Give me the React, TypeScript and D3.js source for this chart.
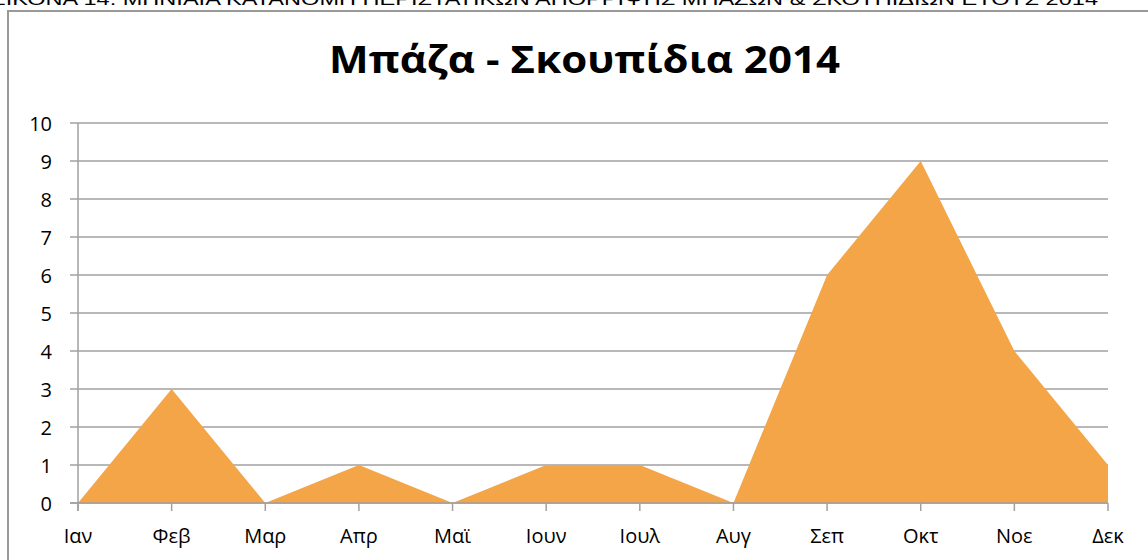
import * as d3 from "d3";

const months = ["Ιαν", "Φεβ", "Μαρ", "Απρ", "Μαϊ", "Ιουν", "Ιουλ", "Αυγ", "Σεπ", "Οκτ", "Νοε", "Δεκ"];
const cases = [0, 3, 0, 1, 0, 1, 1, 0, 6, 9, 4, 1];
const yTicks = [0, 1, 2, 3, 4, 5, 6, 7, 8, 9, 10];

const caption = "ΕΙΚΟΝΑ 14: ΜΗΝΙΑΙΑ ΚΑΤΑΝΟΜΗ ΠΕΡΙΣΤΑΤΙΚΩΝ ΑΠΟΡΡΙΨΗΣ ΜΠΑΖΩΝ & ΣΚΟΥΠΙΔΙΩΝ ΕΤΟΥΣ 2014";
const title = "Μπάζα - Σκουπίδια 2014";

export default function App() {
  const width = 1148;
  const height = 560;
  const margin = { top: 123, right: 40, bottom: 57, left: 78 };

  const x = d3
    .scalePoint<string>()
    .domain(months)
    .range([margin.left, width - margin.right]);

  const y = d3
    .scaleLinear()
    .domain([0, 10])
    .range([height - margin.bottom, margin.top]);

  const area = d3
    .area<number>()
    .x((_, i) => x(months[i]) ?? 0)
    .y0(y(0))
    .y1((d) => y(d));

  const grid = "#a0a0a0";
  const font = "'Open Sans', sans-serif";

  return (
    <svg
      width={width}
      height={height}
      style={{ position: "absolute", left: 0, top: 0 }}
    >
      <rect width={width} height={height} fill="#fff" />
      {/* caption of the document page, cut by the top edge */}
      <text
        x={-10}
        y={5}
        textLength={1108}
        lengthAdjust="spacingAndGlyphs"
        fontFamily="'Liberation Sans', Arial, sans-serif"
        fontSize={17}
        fill="#000"
      >
        {caption}
      </text>
      {/* chart frame */}
      <rect
        x={8}
        y={11}
        width={width + 20}
        height={height + 20}
        fill="none"
        stroke="#999"
        strokeWidth={2}
      />
      <text
        x={329}
        y={73}
        textLength={511}
        lengthAdjust="spacingAndGlyphs"
        fontFamily={font}
        fontWeight="bold"
        fontSize={37}
        fill="#000"
      >
        {title}
      </text>
      {/* gridlines + y ticks */}
      {yTicks.map((t) => (
        <g key={t}>
          <line
            x1={margin.left - 8}
            x2={width - margin.right}
            y1={y(t)}
            y2={y(t)}
            stroke={grid}
            strokeWidth={1.5}
          />
          <text
            x={52}
            y={y(t)}
            textAnchor="end"
            dominantBaseline="central"
            fontFamily={font}
            fontSize={20}
            fill="#000"
          >
            {t}
          </text>
        </g>
      ))}
      <path d={area(cases) ?? ""} fill="#f3a548" />
      {/* axes */}
      <line
        x1={margin.left}
        x2={margin.left}
        y1={y(10)}
        y2={y(0) + 8}
        stroke={grid}
        strokeWidth={1.5}
      />
      <line
        x1={margin.left - 8}
        x2={width - margin.right}
        y1={y(0)}
        y2={y(0)}
        stroke={grid}
        strokeWidth={1.5}
      />
      {months.map((m) => (
        <g key={m}>
          <line
            x1={x(m)}
            x2={x(m)}
            y1={y(0)}
            y2={y(0) + 8}
            stroke={grid}
            strokeWidth={1.5}
          />
          <text
            x={x(m)}
            y={543}
            textAnchor="middle"
            fontFamily={font}
            fontSize={20}
            fill="#000"
          >
            {m}
          </text>
        </g>
      ))}
    </svg>
  );
}
